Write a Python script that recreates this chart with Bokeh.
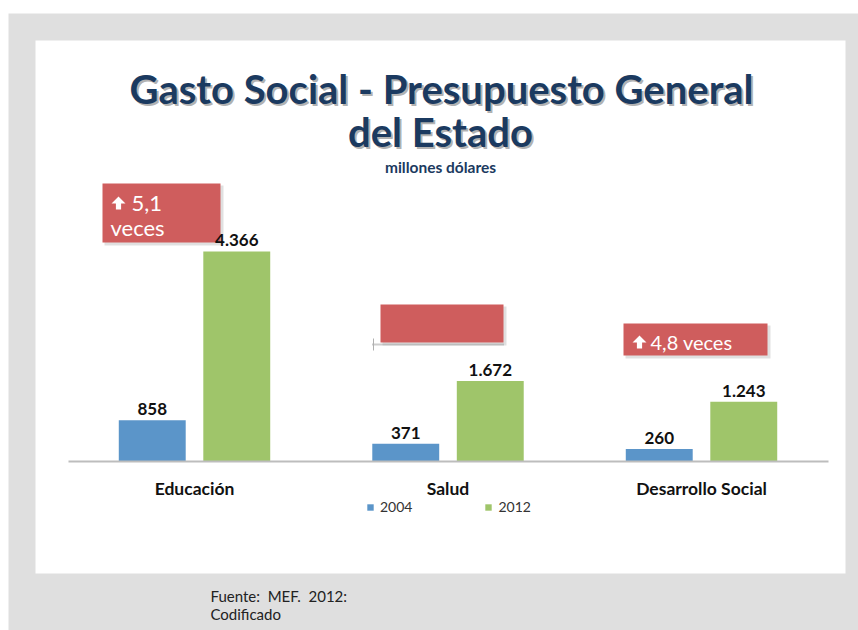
from bokeh.plotting import figure
from bokeh.models import Range1d, ColumnDataSource
from bokeh.transform import dodge
from bokeh.core.properties import value
from bokeh.embed import file_html
from bokeh.resources import INLINE

# ---- data ----
categories = ["Educación", "Salud", "Desarrollo Social"]
years = ["2004", "2012"]
gasto_2004 = [858, 371, 260]
gasto_2012 = [4366, 1672, 1243]
title_lines = ["Gasto Social - Presupuesto General", "del Estado"]
subtitle = "millones dólares"
source_note = ["Fuente:\u00a0 MEF.\u00a0 2012:", "Codificado"]
growth_notes = ["5,1", "veces", "4,8 veces"]

def fmt(v):
    return f"{v:,}".replace(",", ".")

idx = list(range(len(categories)))
src = ColumnDataSource(dict(
    x=idx, cat=categories,
    v2004=gasto_2004, v2012=gasto_2012,
    l2004=[fmt(v) for v in gasto_2004], l2012=[fmt(v) for v in gasto_2012],
))

BLUE = "#5b95c9"
GREEN = "#9fc56a"
RED = "#cf5d5d"
NAVY = "#1b3a60"
FONT = value("Lato")
PG = dict(x_range_name="page", y_range_name="page")

# frame covers whole canvas
p = figure(width=858, height=630, output_backend="svg", toolbar_location=None,
           x_range=Range1d(-0.7653, 2.6193), y_range=Range1d(-3514, 9584),
           x_axis_location=None, y_axis_location=None,
           min_border=0, background_fill_color="white", border_fill_color="white",
           outline_line_color=None)
p.grid.visible = False
p.extra_x_ranges = {"page": Range1d(0, 858)}
p.extra_y_ranges = {"page": Range1d(630, 0)}

# slide background: grey margin and white panel
p.quad(left=[8], right=[858], top=[13], bottom=[630], fill_color="#dfdfdf", line_color=None, **PG)
p.quad(left=[35], right=[845], top=[40], bottom=[573], fill_color="white", line_color=None, **PG)

# bars
p.vbar(x=dodge("x", -0.1667, range=p.x_range), top="v2004", width=0.264, source=src,
       fill_color=BLUE, line_color=None, legend_label=years[0])
p.vbar(x=dodge("x", 0.1667, range=p.x_range), top="v2012", width=0.264, source=src,
       fill_color=GREEN, line_color=None, legend_label=years[1])

# baseline
p.segment(x0=[68], x1=[828], y0=[0], y1=[0], x_range_name="page",
          line_color="#bdbdbd", line_width=2)

# category labels
p.text(x="x", y=0, text="cat", source=src, text_align="center", text_baseline="middle",
       y_offset=27, text_font=FONT, text_font_style="bold", text_font_size="17.5px",
       text_color="#111111")

# title with shadow
title_y = [88, 131]
for dx, dy, col, alpha in ((2, 2, "#6f6f6f", 0.55), (0, 0, NAVY, 1.0)):
    p.text(x=[441 + dx, 440 + dx], y=[title_y[0] + dy, title_y[1] + dy], text=title_lines,
           text_align="center", text_baseline="middle", text_font=FONT, text_font_style="bold",
           text_font_size="40px", text_color=col, text_alpha=alpha, **PG)
p.text(x=[440], y=[166], text=[subtitle], text_align="center", text_baseline="middle",
       text_font=FONT, text_font_style="bold", text_font_size="15.5px", text_color=NAVY, **PG)

# growth boxes (shadow + box)
bl = [102, 380, 623]
br = [220, 503, 767]
bt = [183, 304, 323]
bb = [242, 342, 355]
p.quad(left=[v + 2 for v in bl], right=[v + 3 for v in br], top=[v + 2 for v in bt],
       bottom=[v + 3 for v in bb], fill_color="#000000", fill_alpha=0.12, line_color=None, **PG)
p.quad(left=bl, right=br, top=bt, bottom=bb, fill_color=RED, line_color=None, **PG)
# placeholder dotted line under the empty box
p.segment(x0=[372], x1=[504], y0=[344], y1=[344], line_color="#9a9a9a", line_width=2,
          line_dash="1 1", **PG)
p.segment(x0=[373], x1=[373], y0=[338], y1=[350], line_color="#b0b0b0", line_width=1, **PG)

# thick up arrows
def arrow(cx, top, bottom, hw=7, sw=2.6, hh=7):
    xs = [cx - hw, cx, cx + hw, cx + sw, cx + sw, cx - sw, cx - sw]
    ys = [top + hh, top, top + hh, top + hh, bottom, bottom, top + hh]
    return xs, ys

a1 = arrow(118, 196, 209)
a2 = arrow(639, 335, 348)
p.patches(xs=[a1[0], a2[0]], ys=[a1[1], a2[1]], fill_color="white", line_color=None, **PG)

p.text(x=[131, 110, 650], y=[203, 227, 341], text=growth_notes, text_align="left",
       text_baseline="middle", text_font=FONT, text_font_size=["22px", "22px", "20px"],
       text_color="white", **PG)

# value labels (drawn on top of the boxes)
for col, lab, off in (("v2004", "l2004", -0.1667), ("v2012", "l2012", 0.1667)):
    p.text(x=dodge("x", off, range=p.x_range), y=col, text=lab, source=src,
           text_align="center", text_baseline="bottom", y_offset=-5,
           text_font=FONT, text_font_style="bold", text_font_size="17px", text_color="#111111")

# legend
lg = p.legend[0]
lg.orientation = "horizontal"
lg.location = (366, 115)
lg.glyph_width = 8
lg.glyph_height = 8
lg.label_standoff = 6
lg.spacing = 72
lg.padding = 0
lg.margin = 0
lg.border_line_color = None
lg.background_fill_alpha = 0
lg.label_text_font = "Lato"
lg.label_text_font_size = "14px"
lg.label_text_color = "#333333"

# source note
p.text(x=[210, 210], y=[595, 613], text=source_note, text_align="left", text_baseline="middle",
       text_font=FONT, text_font_size="15px", text_color="#222222", **PG)

open("out.html", "w").write(file_html(p, INLINE))
